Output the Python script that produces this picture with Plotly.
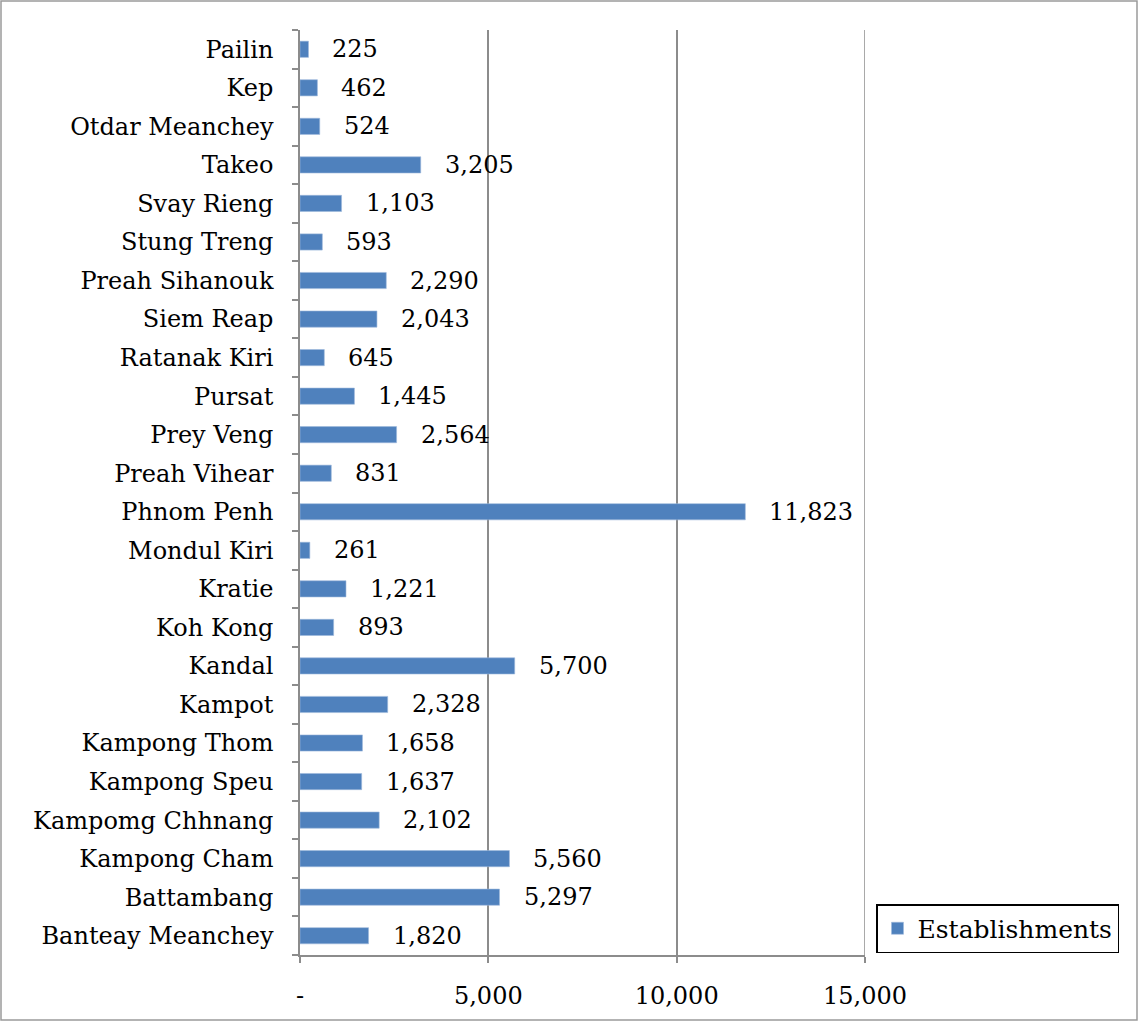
import plotly.graph_objects as go

provinces = ["Banteay Meanchey", "Battambang", "Kampong Cham", "Kampomg Chhnang",
             "Kampong Speu", "Kampong Thom", "Kampot", "Kandal", "Koh Kong", "Kratie",
             "Mondul Kiri", "Phnom Penh", "Preah Vihear", "Prey Veng", "Pursat",
             "Ratanak Kiri", "Siem Reap", "Preah Sihanouk", "Stung Treng", "Svay Rieng",
             "Takeo", "Otdar Meanchey", "Kep", "Pailin"]
establishments = [1820, 5297, 5560, 2102, 1637, 1658, 2328, 5700, 893, 1221,
                  261, 11823, 831, 2564, 1445, 645, 2043, 2290, 593, 1103,
                  3205, 524, 462, 225]
x_tick_vals = [0, 5000, 10000, 15000]
x_tick_text = ["-", "5,000", "10,000", "15,000"]

FONT = "DejaVu Serif"
FS = 24
BLUE = "#4f81bd"
GRID = "#8c8c8c"

fig = go.Figure()
fig.add_trace(go.Bar(
    y=provinces, x=establishments, orientation="h",
    name="Establishments",
    marker=dict(color=BLUE, line=dict(width=0.6, color="#9db8dc")),
))

for p, v in zip(provinces, establishments):
    fig.add_annotation(x=v, y=p, xref="x", yref="y", text=f"{v:,}",
                       showarrow=False, xanchor="left", xshift=22,
                       font=dict(family=FONT, size=FS, color="black"))

# gridline at right edge (15000)
fig.add_shape(type="line", xref="x", yref="paper", x0=15000, x1=15000, y0=0, y1=1,
              line=dict(color=GRID, width=1.5), layer="below")

# outer border
fig.add_shape(type="rect", xref="paper", yref="paper",
              x0=(1 - 300) / 565, x1=(1137 - 300) / 565,
              y0=(955 - 1020) / 925, y1=(955 - 1) / 925,
              line=dict(color="#9a9a9a", width=1.5), layer="below")

fig.update_layout(
    width=1139, height=1022,
    margin=dict(l=300, r=274, t=30, b=67),
    paper_bgcolor="white", plot_bgcolor="white",
    bargap=0.58,
    font=dict(family=FONT, size=FS, color="black"),
    showlegend=True,
    legend=dict(x=(876 - 300) / 565, y=(955 - 953) / 925, xanchor="left", yanchor="bottom",
                bordercolor="black", borderwidth=1.5, bgcolor="white",
                font=dict(family=FONT, size=25, color="black"),
                itemwidth=30),
    xaxis=dict(range=[0, 15000], tickvals=x_tick_vals, ticktext=x_tick_text,
               showgrid=True, gridcolor=GRID, gridwidth=1.5,
               showline=True, linecolor=GRID, linewidth=1.5,
               ticks="outside", ticklen=6, tickcolor=GRID, tickwidth=1.5,
               ticklabelstandoff=12, zeroline=False, fixedrange=True),
    yaxis=dict(type="category", categoryorder="array", categoryarray=provinces,
               showline=True, linecolor=GRID, linewidth=1.5,
               ticks="outside", ticklen=6, tickcolor=GRID, tickwidth=1.5,
               tickson="boundaries", ticklabelstandoff=20, showgrid=False,
               fixedrange=True),
)

fig.write_html("out.html", config={"displayModeBar": False},
               post_script="document.body.style.margin='0';")
